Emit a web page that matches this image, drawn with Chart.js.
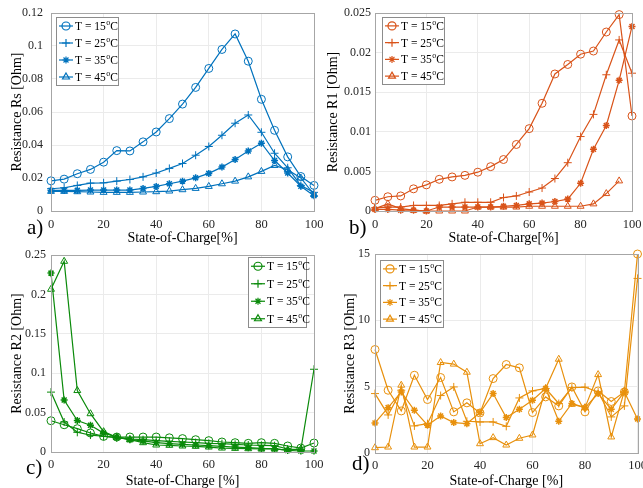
<!DOCTYPE html>
<html>
<head>
<meta charset="utf-8">
<script src="https://cdn.jsdelivr.net/npm/chart.js@4.4.1/dist/chart.umd.min.js"></script>
<style>
body{margin:0;background:#fff;}
#wrap{position:relative;width:643px;height:488px;overflow:hidden;background:#fff;}
#wrap canvas{position:absolute;}
.tag{position:absolute;font-family:"Liberation Serif",serif;font-size:21px;color:#000;}
</style>
</head>
<body>
<div id="wrap">
<canvas id="chartA" width="330" height="250" style="left:0;top:0"></canvas>
<canvas id="chartB" width="323" height="250" style="left:320px;top:0"></canvas>
<canvas id="chartC" width="330" height="248" style="left:0;top:240px"></canvas>
<canvas id="chartD" width="323" height="248" style="left:320px;top:240px"></canvas>
<div class="tag" style="left:27px;top:215px">a)</div>
<div class="tag" style="left:349px;top:215px">b)</div>
<div class="tag" style="left:26px;top:455px">c)</div>
<div class="tag" style="left:352px;top:451px">d)</div>
</div>
<script>

// ============================================DATA============================================

const soc = [0,5,10,15,20,25,30,35,40,45,50,55,60,65,70,75,80,85,90,95,100];
const tempLabels = ["15","25","35","45"];
const xTicks = [0,20,40,60,80,100];

// Rs
const rs15 = [0.0183,0.0193,0.0226,0.0252,0.0296,0.0366,0.0364,0.0419,0.0479,0.0560,0.0648,0.0749,0.0864,0.0979,0.1073,0.0908,0.0677,0.0489,0.0328,0.0209,0.0155];
const rs25 = [0.0135,0.0141,0.0155,0.0169,0.0171,0.0181,0.0191,0.0207,0.0230,0.0258,0.0288,0.0338,0.0391,0.0459,0.0532,0.0582,0.0477,0.0350,0.0262,0.0155,0.0113];
const rs35 = [0.0125,0.0125,0.0125,0.0127,0.0127,0.0127,0.0127,0.0137,0.0149,0.0165,0.0181,0.0201,0.0228,0.0266,0.0312,0.0364,0.0411,0.0306,0.0230,0.0150,0.0093];
const rs45 = [0.0119,0.0119,0.0117,0.0115,0.0113,0.0113,0.0113,0.0115,0.0117,0.0121,0.0129,0.0137,0.0149,0.0165,0.0181,0.0207,0.0240,0.0276,0.0250,0.0200,0.0100];
const rsTicks = [0,0.02,0.04,0.06,0.08,0.1,0.12];

// R1
const r1_15 = [0.00135,0.0018,0.0019,0.0028,0.0033,0.0040,0.0043,0.0045,0.0049,0.0056,0.0065,0.0084,0.0104,0.0136,0.0173,0.0185,0.0198,0.0202,0.0226,0.0248,0.0120];
const r1_25 = [0.0004,0.0005,0.0005,0.0007,0.0007,0.0007,0.0009,0.0011,0.0011,0.0011,0.0017,0.0019,0.0024,0.0029,0.0041,0.0061,0.0094,0.0122,0.0172,0.0216,0.0174];
const r1_35 = [0.0002,0.0002,0.0001,0.0001,0.0000,0.0005,0.0005,0.0005,0.0005,0.0005,0.0006,0.0007,0.0009,0.0010,0.0012,0.0015,0.0035,0.0078,0.0108,0.0165,0.0233];
const r1_45 = [0.0003,0.0009,0.0003,0.0001,0.0000,0.0000,0.0000,0.0000,0.0005,0.0005,0.0005,0.0005,0.0006,0.0006,0.0006,0.0006,0.0006,0.0009,0.0022,0.0038,null];
const r1Ticks = [0,0.005,0.01,0.015,0.02,0.025];

// R2
const r2_15 = [0.0397,0.0346,0.0296,0.0241,0.0198,0.019,0.019,0.019,0.019,0.018,0.017,0.0156,0.0144,0.0127,0.0118,0.011,0.0118,0.011,0.0076,0.005,0.0114];
const r2_25 = [0.076,0.038,0.025,0.0215,0.020,0.018,0.0165,0.0156,0.0144,0.0135,0.0127,0.012,0.011,0.0106,0.0097,0.0089,0.0085,0.008,0.0038,0.003,0.105];
const r2_35 = [0.227,0.066,0.040,0.034,0.024,0.019,0.0156,0.014,0.012,0.0106,0.0097,0.0089,0.008,0.0072,0.0063,0.0055,0.0046,0.0042,0.002,0.0013,0.0013];
const r2_45 = [0.2065,0.242,0.078,0.0486,0.0258,0.0186,0.0156,0.0118,0.0089,0.0085,0.0076,0.0072,0.0063,0.005,0.0046,0.0042,0.0038,0.0038,0.0025,0.0038,null];
const r2Ticks = [0,0.05,0.1,0.15,0.2,0.25];

// R3
const r3_15 = [7.8,4.73,3.17,5.86,4.03,5.69,3.1,3.78,3.02,5.61,6.67,6.42,3.05,4.23,3.55,4.98,3.1,4.68,3.88,4.6,15.0];
const r3_25 = [4.48,2.87,4.73,2.04,2.21,4.33,4.98,2.39,2.34,2.34,2.01,4.15,4.68,4.86,3.73,4.93,4.96,4.6,2.72,3.55,13.16];
const r3_35 = [2.27,3.42,4.6,3.22,2.1,2.79,2.29,2.21,3.05,4.48,2.67,3.3,3.98,4.86,2.39,3.73,3.42,4.48,3.3,4.6,2.57];
const r3_45 = [0.4,0.45,5.11,0.45,0.45,6.82,6.7,6.09,0.7,1.16,0.6,1.11,1.36,4.86,7.07,3.67,3.42,5.91,1.21,4.68,null];
const r3Ticks = [0,5,10,15];

const markers = ["circle","cross","star","triangle"];
const FONT = "Liberation Serif";


// ============================================PLUGINS============================================

// grey box round the plot area
const boxPlugin = {
id:"box",
afterDraw(chart){
const a = chart.chartArea;
const ctx = chart.ctx;
ctx.save();
ctx.strokeStyle = "#a6a6a6";
ctx.lineWidth = 1;
ctx.strokeRect(Math.round(a.left)+0.5, Math.round(a.top)+0.5, Math.round(a.right-a.left), Math.round(a.bottom-a.top));
ctx.restore();
}
};

// legend drawn inside the axes like matlab
const insideLegend = {
id:"insideLegend",
afterDraw(chart, args, opts){
if(!opts || opts.x===undefined) return;
const ctx = chart.ctx;
ctx.save();
ctx.fillStyle = "#fff";
ctx.fillRect(opts.x, opts.y, opts.w, opts.h);
ctx.strokeStyle = "#8c8c8c";
ctx.lineWidth = 1;
ctx.strokeRect(opts.x+0.5, opts.y+0.5, opts.w, opts.h);
const rowH = opts.h/4;
chart.data.datasets.forEach(function(ds, i){
const cy = opts.y + rowH*(i+0.5) + 0.5;
const lx = opts.x + 3;
ctx.strokeStyle = ds.borderColor;
ctx.lineWidth = 1.2;
ctx.beginPath();
ctx.moveTo(lx, cy);
ctx.lineTo(lx+14, cy);
ctx.stroke();
ctx.fillStyle = "rgba(0,0,0,0)";
Chart.helpers.drawPoint(ctx, {pointStyle: ds.pointStyle, radius: ds.pointRadius, borderWidth: ds.pointBorderWidth, rotation:0}, lx+7, cy);
let tx = lx + 16;
ctx.fillStyle = "#000";
ctx.textBaseline = "middle";
ctx.font = "11.5px " + FONT;
const t1 = "T = " + tempLabels[i];
ctx.fillText(t1, tx, cy+1);
tx += ctx.measureText(t1).width + 0.5;
ctx.font = "8px " + FONT;
ctx.fillText("o", tx, cy-3);
tx += ctx.measureText("o").width;
ctx.font = "11.5px " + FONT;
ctx.fillText("C", tx, cy+1);
});
ctx.restore();
}
};


// ============================================CHART MAKER============================================

function makeChart(id, cfg){

const series = [cfg.s15, cfg.s25, cfg.s35, cfg.s45];

const datasets = series.map(function(arr, i){
return {
label: "T = " + tempLabels[i] + "°C",
data: soc.map(function(x, k){ return {x:x, y:arr[k]}; }),
borderColor: cfg.color,
backgroundColor: "rgba(0,0,0,0)",
borderWidth: 1.2,
pointStyle: markers[i],
pointRadius: markers[i]==="star" ? 3.5 : 4,
pointBorderWidth: markers[i]==="star" ? 1.5 : 1,
pointBorderColor: cfg.color,
pointBackgroundColor: "rgba(0,0,0,0)",
tension: 0,
clip: false
};
});

new Chart(document.getElementById(id),{

type:"line",

data:{ datasets: datasets },

options:{
responsive:false,
animation:false,
devicePixelRatio:1,
layout:{ padding:{ top:cfg.top, right:cfg.right, left:0, bottom:0 } },
plugins:{
legend:{ display:false },
tooltip:{ enabled:false },
insideLegend: cfg.legend
},
scales:{
x:{
type:"linear",
min:0,
max:100,
afterBuildTicks: function(s){ s.ticks = xTicks.map(function(v){ return {value:v}; }); },
afterFit: function(s){ s.height = cfg.xHeight; s.paddingLeft = 0; s.paddingRight = 0; },
ticks:{ color:"#262626", padding:cfg.xPad, maxRotation:0, font:{ family:FONT, size:12.5 } },
grid:{ color:"#ebebeb", drawTicks:false },
border:{ display:false },
title:{ display:true, text:cfg.xTitle, color:"#000", font:{ family:FONT, size:14, lineHeight:1 }, padding:{ top:0, bottom:cfg.xTitlePad } }
},
y:{
type:"linear",
min:0,
max:cfg.ticks[cfg.ticks.length-1],
afterBuildTicks: function(s){ s.ticks = cfg.ticks.map(function(v){ return {value:v}; }); },
afterFit: function(s){ s.width = cfg.yWidth; s.paddingTop = 0; s.paddingBottom = 0; },
ticks:{ color:"#262626", padding:cfg.yPad, font:{ family:FONT, size:12 }, callback:function(v){ return String(v); } },
grid:{ color:"#ebebeb", drawTicks:false },
border:{ display:false },
title:{ display:true, text:cfg.yTitle, color:"#000", font:{ family:FONT, size:14, lineHeight:1 }, padding:{ top:cfg.yTitlePad, bottom:0 } }
}
}
},

plugins:[boxPlugin, insideLegend]

});

}


// ============================================a) Rs============================================
makeChart("chartA",{
s15:rs15, s25:rs25, s35:rs35, s45:rs45, ticks:rsTicks,
color:"#0072BD",
top:13, right:16, xHeight:39, yWidth:51, xPad:6, yPad:8, xTitlePad:5, yTitlePad:10,
xTitle:"State-of-Charge[%]", yTitle:"Resistance Rs [Ohm]",
legend:{ x:56, y:17, w:62, h:68 }
});

// ============================================b) R1============================================
makeChart("chartB",{
s15:r1_15, s25:r1_25, s35:r1_35, s45:r1_45, ticks:r1Ticks,
color:"#D95319",
top:13, right:11, xHeight:39, yWidth:55, xPad:6, yPad:4, xTitlePad:5, yTitlePad:6,
xTitle:"State-of-Charge[%]", yTitle:"Resistance R1 [Ohm]",
legend:{ x:62, y:17, w:62, h:67 }
});

// ============================================c) R2============================================
makeChart("chartC",{
s15:r2_15, s25:r2_25, s35:r2_35, s45:r2_45, ticks:r2Ticks,
color:"#0A8A0A",
top:15, right:16, xHeight:36, yWidth:51, xPad:5, yPad:5, xTitlePad:0, yTitlePad:10,
xTitle:"State-of-Charge [%]", yTitle:"Resistance R2 [Ohm]",
legend:{ x:248, y:17, w:58, h:70 }
});

// ============================================d) R3============================================
makeChart("chartD",{
s15:r3_15, s25:r3_25, s35:r3_35, s45:r3_45, ticks:r3Ticks,
color:"#E8900C",
top:14, right:5, xHeight:35, yWidth:55, xPad:5, yPad:5, xTitlePad:0, yTitlePad:23,
xTitle:"State-of-Charge [%]", yTitle:"Resistance R3 [Ohm]",
legend:{ x:60, y:20, w:63, h:67 }
});

</script>
</body>
</html>
